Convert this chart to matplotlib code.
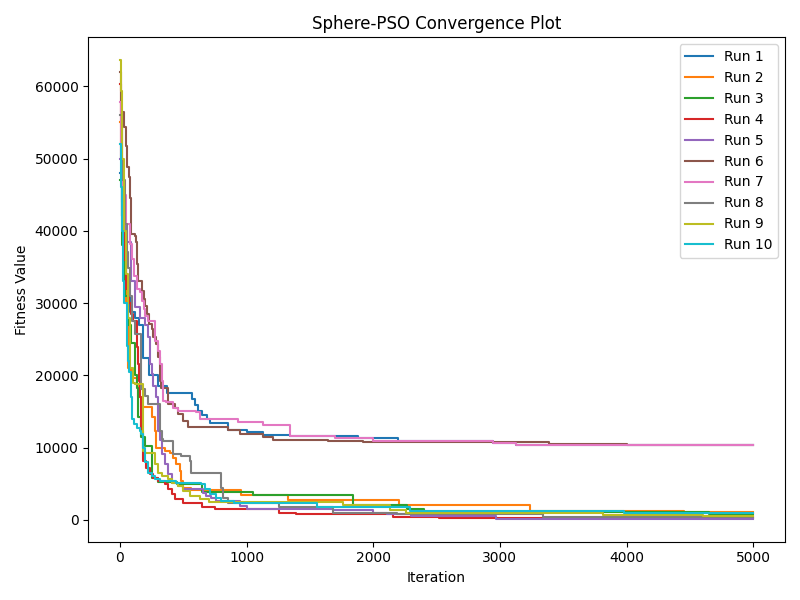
import matplotlib
matplotlib.use("Agg")
import matplotlib.pyplot as plt

# Breakpoints (iteration, best fitness)
run1_iter = [0, 15, 30, 50, 80, 118, 150, 180, 230, 300, 370, 570, 590, 617, 650, 685, 710, 850, 1000, 1130, 1340, 1880, 2195, 2945, 3130, 5000]
run1_fit = [48000, 42000, 36000, 31000, 28800, 28000, 27000, 22400, 20000, 18500, 17600, 16700, 15900, 15100, 14500, 14000, 13400, 12500, 12100, 11800, 11540, 11310, 10940, 10570, 10390, 10390]

run2_iter = [0, 15, 30, 50, 63, 90, 105, 132, 144, 170, 250, 276, 289, 355, 394, 420, 447, 473, 486, 500, 560, 960, 1325, 2200, 3235, 4455, 5000]
run2_fit = [55000, 46000, 38000, 30000, 21000, 20500, 19700, 18560, 16940, 15600, 14170, 12330, 10000, 9560, 9320, 8630, 7710, 6790, 5400, 4470, 4200, 3460, 2700, 2000, 1230, 1150, 1150]

run3_iter = [0, 20, 40, 63, 90, 118, 132, 144, 170, 197, 250, 300, 450, 650, 1050, 1840, 2270, 2400, 4650, 5000]
run3_fit = [47000, 38000, 31000, 27000, 24500, 20000, 18300, 14170, 11500, 10250, 5800, 5300, 5000, 3900, 3420, 2000, 1480, 1050, 780, 780]

run4_iter = [0, 10, 20, 35, 50, 70, 90, 105, 132, 144, 150, 158, 166, 171, 184, 210, 237, 263, 302, 355, 381, 408, 434, 500, 650, 750, 1260, 1390, 2155, 2520, 5000]
run4_fit = [60300, 50000, 42000, 36000, 32000, 30000, 28500, 27560, 23860, 21570, 19250, 16940, 14640, 12330, 8170, 7240, 6330, 5860, 5400, 4940, 4250, 3560, 2870, 2400, 1800, 1500, 1010, 790, 415, 200, 200]

run5_iter = [0, 20, 40, 60, 90, 118, 158, 200, 223, 237, 250, 263, 289, 302, 321, 329, 355, 381, 408, 460, 500, 657, 684, 723, 763, 946, 1000, 1680, 1995, 2105, 2300, 2970, 5000]
run5_fit = [50000, 44000, 40000, 38500, 33000, 29500, 28000, 27000, 25250, 21570, 20200, 18560, 16940, 12300, 11000, 9100, 7710, 6330, 5170, 4700, 4250, 3780, 3320, 3090, 2630, 1940, 1480, 1340, 1010, 790, 550, 150, 150]

run6_iter = [0, 10, 32, 47, 58, 71, 84, 89, 121, 126, 134, 147, 173, 187, 200, 213, 231, 252, 263, 289, 302, 315, 323, 381, 434, 460, 500, 539, 852, 947, 1130, 1210, 1640, 1920, 3390, 4000, 5000]
run6_fit = [62000, 56400, 54300, 51800, 48800, 47500, 44600, 39600, 39300, 38400, 35400, 33100, 31700, 30600, 29600, 28500, 27100, 26400, 25250, 24300, 22500, 19250, 18300, 16000, 15550, 14600, 13700, 12900, 12400, 11870, 11500, 11040, 10850, 10710, 10480, 10400, 10400]

run7_iter = [0, 10, 25, 50, 81, 95, 110, 134, 160, 173, 187, 200, 223, 276, 302, 315, 329, 341, 368, 420, 460, 605, 631, 933, 1130, 1340, 1700, 1997, 2945, 3130, 5000]
run7_fit = [57800, 50000, 45000, 41000, 38200, 36100, 33800, 31950, 31500, 30300, 29200, 28250, 27560, 24800, 23400, 21570, 19250, 16480, 16250, 15550, 15100, 14860, 13950, 13480, 13160, 11630, 11310, 10940, 10570, 10390, 10390]

run8_iter = [0, 20, 40, 55, 63, 80, 100, 118, 158, 171, 197, 223, 315, 334, 341, 420, 486, 552, 565, 802, 815, 850, 1260, 1680, 2185, 3340, 4500, 5000]
run8_fit = [56000, 47000, 41000, 37000, 34900, 31000, 27500, 25700, 25700, 18100, 17170, 16100, 12300, 11180, 10940, 9100, 8860, 8170, 6550, 4470, 3090, 2310, 1750, 1000, 790, 460, 350, 350]

run9_iter = [0, 13, 20, 30, 45, 63, 80, 105, 118, 180, 197, 276, 302, 330, 381, 408, 460, 500, 552, 631, 700, 1760, 2130, 2260, 3810, 4600, 5000]
run9_fit = [63600, 59400, 50000, 40000, 34000, 28000, 21000, 19000, 18800, 9600, 9320, 7710, 6550, 6100, 5640, 5170, 4700, 4020, 3320, 2870, 2490, 2030, 1340, 1010, 740, 600, 600]

run10_iter = [0, 8, 15, 25, 30, 55, 66, 72, 87, 92, 97, 113, 139, 158, 171, 184, 197, 223, 250, 276, 315, 447, 644, 670, 710, 763, 800, 900, 1560, 2290, 3980, 5000]
run10_fit = [52000, 46000, 40000, 33000, 30000, 24000, 22000, 20500, 19700, 16940, 14000, 13200, 12780, 12330, 11870, 10000, 7940, 6500, 6100, 5640, 5400, 5170, 4940, 4250, 3560, 3090, 2600, 2310, 1850, 1250, 1010, 1010]

run_labels = ["Run 1", "Run 2", "Run 3", "Run 4", "Run 5", "Run 6", "Run 7", "Run 8", "Run 9", "Run 10"]

iters = [run1_iter, run2_iter, run3_iter, run4_iter, run5_iter, run6_iter, run7_iter, run8_iter, run9_iter, run10_iter]
fits = [run1_fit, run2_fit, run3_fit, run4_fit, run5_fit, run6_fit, run7_fit, run8_fit, run9_fit, run10_fit]

fig, ax = plt.subplots(figsize=(8, 6), dpi=100)
for it, f, lab in zip(iters, fits, run_labels):
    ax.plot(it, f, drawstyle="steps-post", label=lab, linewidth=1.5)

ax.set_title("Sphere-PSO Convergence Plot")
ax.set_xlabel("Iteration")
ax.set_ylabel("Fitness Value")
ax.legend(loc="upper right")
fig.tight_layout()
fig.savefig("out.png", dpi=100)
